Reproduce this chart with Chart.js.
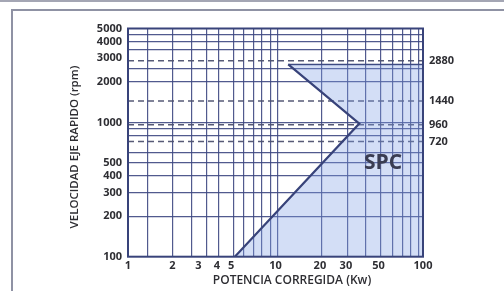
<!DOCTYPE html>
<html><head><meta charset="utf-8">
<script src="https://cdn.jsdelivr.net/npm/chart.js@4.4.1/dist/chart.umd.min.js"></script>
<style>
html,body{margin:0;padding:0;background:#fff;overflow:hidden}
#wrap{position:relative;width:504px;height:291px;overflow:hidden}
#topbar{position:absolute;left:0;top:0;width:504px;height:2px;background:#a4a6b4}
#frame{position:absolute;left:11px;top:9px;width:600px;height:400px;border-left:2px solid #8f92a4;border-top:2px solid #8f92a4}
canvas{position:absolute;left:0;top:0}
</style></head><body>
<div id="wrap"><div id="topbar"></div><div id="frame"></div><canvas id="c" width="504" height="291"></canvas></div>
<script>
// ---- data ----
const xTickLabels = [1, 2, 3, 4, 5, 10, 20, 30, 50, 100];
const xGridLines  = [1.35, 2, 2.7, 3.4, 4.1, 5.2, 6.1, 7.05, 8.05, 9.2, 10.3, 20.5, 31, 41, 51.5, 62.5, 73, 83, 93];
const yTickLabels = [100, 200, 300, 400, 500, 1000, 2000, 3000, 4000, 5000];
const yGridLines  = [200, 300, 400, 500, 600, 800, 900, 1000, 2000, 2500, 3500, 4000, 4500];
const speedLines  = [720, 960, 1440, 2880];
const boundaryPower = [5.3, 37, 12.2];
const boundarySpeed = [100, 980, 2700];
const topEdgePower  = [12.2, 100];
const topEdgeSpeed  = [2700, 2700];
const regionLabel = 'SPC';
const regionLabelPower = 53.6;
const regionLabelSpeed = 500;
const xTitle = 'POTENCIA CORREGIDA (Kw)';
const yTitle = 'VELOCIDAD EJE RAPIDO (rpm)';

const gridColor = 'rgba(62,72,130,0.9)';
const lineColor = '#38437a';
const dashColor = 'rgba(78,82,112,0.95)';
const textColor = '#2e2e33';
const FONT = 'Open Sans';

const pts = (xs, ys) => xs.map((v, i) => ({x: v, y: ys[i]}));
const uniq = arr => [...new Set(arr)].sort((a, b) => a - b);

const datasets = [
  {
    data: pts(boundaryPower, boundarySpeed),
    borderColor: lineColor, borderWidth: 2.2,
    backgroundColor: 'rgba(125,158,228,0.34)',
    fill: {value: 100}, pointRadius: 0, tension: 0
  },
  {
    data: pts(topEdgePower, topEdgeSpeed),
    borderColor: lineColor, borderWidth: 1.6, fill: false, pointRadius: 0
  },
  ...speedLines.map(v => ({
    data: pts([1, 100], [v, v]),
    borderColor: dashColor, borderWidth: 1.5, borderDash: [6, 4],
    fill: false, pointRadius: 0
  }))
];

const deco = {
  id: 'deco',
  afterDatasetsDraw(chart) {
    const {ctx, chartArea: a, scales: {x, y}} = chart;
    ctx.save();
    ctx.strokeStyle = lineColor; ctx.lineWidth = 2;
    ctx.strokeRect(a.left, a.top, a.right - a.left, a.bottom - a.top);
    ctx.fillStyle = '#3a3d52';
    ctx.font = 'bold 21px "' + FONT + '"';
    ctx.textAlign = 'center'; ctx.textBaseline = 'middle';
    ctx.fillText(regionLabel, x.getPixelForValue(regionLabelPower), y.getPixelForValue(regionLabelSpeed));
    ctx.fillStyle = textColor;
    ctx.font = '600 12px "' + FONT + '"';
    ctx.fillText(xTitle, 292, 281);
    ctx.font = '600 11.5px "' + FONT + '"';
    ctx.translate(75, 147);
    ctx.rotate(-Math.PI / 2);
    ctx.fillText(yTitle, 0, 0);
    ctx.restore();
  }
};

const tickFont = {family: FONT, size: 11, weight: 'bold'};

new Chart(document.getElementById('c'), {
  type: 'line',
  data: {datasets},
  options: {
    responsive: false, animation: false, devicePixelRatio: 1,
    indexAxis: 'y',
    layout: {padding: {top: 28.5, left: 0, right: 0, bottom: 0}},
    plugins: {legend: {display: false}, tooltip: {enabled: false}},
    scales: {
      x: {
        type: 'logarithmic', min: 1, max: 100, position: 'bottom',
        afterBuildTicks: s => { s.ticks = uniq([...xTickLabels, ...xGridLines]).map(v => ({value: v})); },
        afterFit: s => { s.height = 34.3; },
        ticks: {autoSkip: false, maxRotation: 0, minRotation: 0, padding: 3, color: textColor, font: tickFont,
                callback: v => xTickLabels.includes(v) ? String(v) : ''},
        grid: {drawTicks: false, lineWidth: 1.2,
               color: c => (c.tick && xGridLines.includes(c.tick.value)) ? gridColor : 'rgba(0,0,0,0)'},
        border: {display: false}
      },
      y: {
        type: 'logarithmic', min: 100, max: 5000, position: 'left',
        afterBuildTicks: s => { s.ticks = uniq([...yTickLabels, ...yGridLines]).map(v => ({value: v})); },
        afterFit: s => { s.width = 128; },
        ticks: {autoSkip: false, padding: 6, color: textColor, font: tickFont,
                callback: v => yTickLabels.includes(v) ? String(v) : ''},
        grid: {drawTicks: false, lineWidth: 1.2,
               color: c => (c.tick && yGridLines.includes(c.tick.value)) ? gridColor : 'rgba(0,0,0,0)'},
        border: {display: false}
      },
      y2: {
        axis: 'y', type: 'logarithmic', min: 100, max: 5000, position: 'right',
        afterBuildTicks: s => { s.ticks = speedLines.map(v => ({value: v})); },
        afterFit: s => { s.width = 81; },
        ticks: {autoSkip: false, padding: 6, color: textColor, font: tickFont, callback: v => String(v)},
        grid: {display: false, drawTicks: false},
        border: {display: false}
      }
    }
  },
  plugins: [deco]
});
</script>
</body></html>
